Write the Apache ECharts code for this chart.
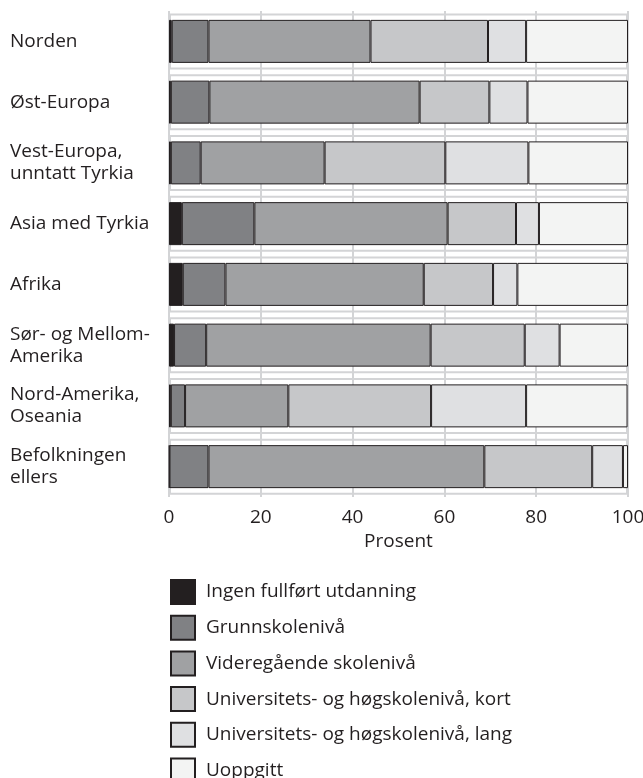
<!DOCTYPE html>
<html>
<head>
<meta charset="utf-8">
<script src="https://cdn.jsdelivr.net/npm/echarts@6/dist/echarts.min.js"></script>
<style>
  html, body { margin: 0; padding: 0; background: #fff; }
  #chart { width: 643px; height: 778px; }
</style>
</head>
<body>
<div id="chart"></div>
<script>
const categories = [
  "Norden",
  "Øst-Europa",
  "Vest-Europa,\nunntatt Tyrkia",
  "Asia med Tyrkia",
  "Afrika",
  "Sør- og Mellom-\nAmerika",
  "Nord-Amerika,\nOseania",
  "Befolkningen\nellers",
];
const seriesNames = [
  "Ingen fullført utdanning",
  "Grunnskolenivå",
  "Videregående skolenivå",
  "Universitets- og høgskolenivå, kort",
  "Universitets- og høgskolenivå, lang",
  "Uoppgitt",
];
const ingen = [0.6, 0.4, 0.4, 2.8, 3.0, 1.1, 0.4, 0.1];
const grunnskole = [8.0, 8.4, 6.5, 15.8, 9.3, 7.0, 3.1, 8.5];
const videregaende = [35.3, 45.8, 27.0, 42.1, 43.2, 48.9, 22.5, 60.1];
const uniKort = [25.6, 15.2, 26.3, 14.9, 15.1, 20.5, 31.1, 23.5];
const uniLang = [8.3, 8.3, 18.1, 5.0, 5.3, 7.6, 20.7, 6.7];
const uoppgitt = [22.2, 21.9, 21.7, 19.4, 24.1, 14.9, 22.1, 1.1];
const xTicks = [0, 20, 40, 60, 80, 100];

const colors = ["#231f20", "#808184", "#a0a1a3", "#c6c7c9", "#dfe0e2", "#f3f4f3"];
const values = [ingen, grunnskole, videregaende, uniKort, uniLang, uoppgitt];
const font = "'Open Sans', 'Noto Sans', sans-serif";
const ink = "#231f20";
const gridGray = "#d3d4d6";

const chart = echarts.init(document.getElementById("chart"));

const stacked = seriesNames.map((name, i) => ({
  name: name,
  type: "bar",
  stack: "total",
  yAxisIndex: 0,
  barWidth: 43,
  data: values[i],
  itemStyle: { color: colors[i], borderColor: ink, borderWidth: 1 },
  z: 3,
}));

// light frame around each row, spanning the full axis
const frame = {
  name: "frame",
  type: "bar",
  yAxisIndex: 1,
  barWidth: 56,
  silent: true,
  data: categories.map(() => xTicks[xTicks.length - 1]),
  itemStyle: { color: "transparent", borderColor: gridGray, borderWidth: 2 },
  z: 1,
};

chart.setOption({
  animation: false,
  textStyle: { fontFamily: font, color: ink },
  grid: {
    left: 169, right: 15, top: 11, bottom: 281,
    containLabel: false, outerBoundsMode: "none",
  },
  xAxis: {
    type: "value",
    min: 0,
    max: 100,
    interval: 20,
    name: "Prosent",
    nameLocation: "middle",
    nameGap: 33,
    nameTextStyle: { fontFamily: font, fontSize: 19, color: ink },
    axisLine: { show: false },
    axisTick: { show: false },
    axisLabel: { fontFamily: font, fontSize: 19, color: ink, margin: 11 },
    splitLine: { show: true, lineStyle: { color: gridGray, width: 2 } },
  },
  yAxis: [
    {
      type: "category",
      inverse: true,
      data: categories,
      axisLine: { show: false },
      axisTick: { show: false },
      axisLabel: {
        fontFamily: font,
        fontSize: 19,
        color: ink,
        align: "left",
        margin: 159,
        lineHeight: 22,
      },
    },
    {
      type: "category",
      inverse: true,
      data: categories,
      show: false,
    },
  ],
  legend: {
    orient: "vertical",
    left: 165,
    top: 574,
    height: 260,
    itemWidth: 24,
    itemHeight: 24,
    itemGap: 9.7,
    icon: "rect",
    data: seriesNames,
    textStyle: {
      fontFamily: font, fontSize: 19, color: ink,
      lineHeight: 24, padding: [0, 0, 0, 6],
    },
  },
  series: [frame].concat(stacked),
});
</script>
</body>
</html>
